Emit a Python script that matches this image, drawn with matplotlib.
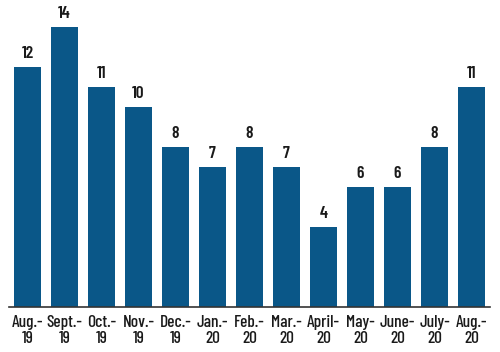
import matplotlib.pyplot as plt

# --- data ---
months = ["Aug.-\n19", "Sept.-\n19", "Oct.-\n19", "Nov.-\n19", "Dec.-\n19", "Jan.-\n20", "Feb.-\n20",
          "Mar.-\n20", "April-\n20", "May-\n20", "June-\n20", "July-\n20", "Aug.-\n20"]
counts = [12, 14, 11, 10, 8, 7, 8, 7, 4, 6, 6, 8, 11]

font = ["Barlow Condensed", "DejaVu Sans"]

fig = plt.figure(figsize=(5, 3.52), dpi=100)
ax = fig.add_axes([9 / 500, 45 / 352, 481 / 500, 307 / 352])

x = range(len(counts))
bars = ax.bar(x, counts, width=0.73, color="#0a5788")

for b, v in zip(bars, counts):
    ax.text(b.get_x() + b.get_width() / 2, v + 0.3, str(v), ha="center", va="bottom",
            fontsize=12.5, fontweight=600, family=font, color="#1a1a1a")

ax.set_xlim(-0.5, 12.5)
ax.set_ylim(0, 15.35)
ax.set_xticks(list(x))
ax.set_xticklabels(months, family=font, fontsize=12.5, fontweight=500, color="#1a1a1a",
                   linespacing=1.05)
ax.tick_params(axis="x", length=0, pad=6)
ax.set_yticks([])
for s in ["top", "right", "left"]:
    ax.spines[s].set_visible(False)
ax.spines["bottom"].set_color("#333333")
ax.spines["bottom"].set_linewidth(1.2)

plt.savefig("out.png", dpi=100)
